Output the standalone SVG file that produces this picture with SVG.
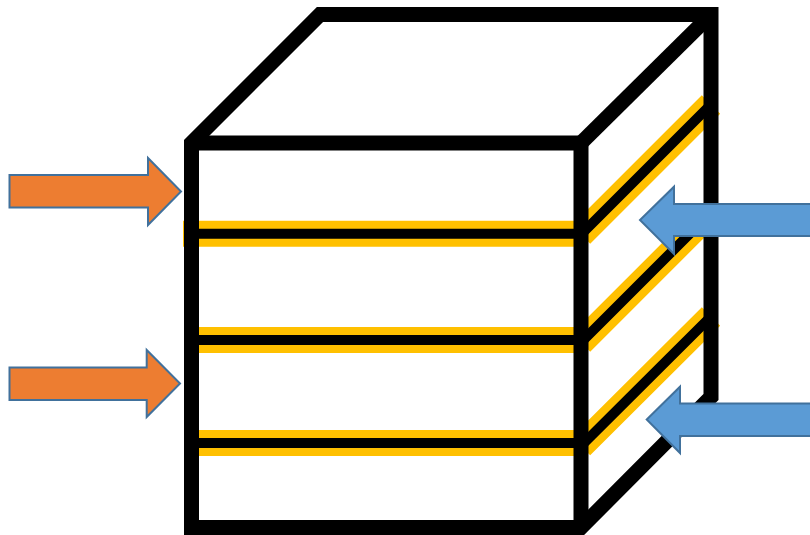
<svg xmlns="http://www.w3.org/2000/svg" width="810" height="535" viewBox="0 0 810 535">
<style>
.o{stroke:#FFC000;stroke-width:26;fill:none}
.k{stroke:#000;stroke-width:10;fill:none}
.c{stroke:#000;stroke-width:15;fill:none;stroke-linejoin:miter;stroke-miterlimit:8}
.ao{fill:#ED7D31;stroke:#41719C;stroke-width:2}
.ab{fill:#5B9BD5;stroke:#41719C;stroke-width:2}
</style>
<rect width="810" height="535" fill="#fff"/>
<g id="layers">
<path class="o" d="M183 233.700H581M581 234.500L711 104.500"/>
<path class="k" d="M191 233.700H581M581 234.500L711 104.500"/>
<path class="o" d="M191 340H581M581 342.500L711 212.500"/>
<path class="k" d="M191 340H581M581 342.500L711 212.500"/>
<path class="o" d="M191 443H581M581 446L711 316.500"/>
<path class="k" d="M191 443H581M581 446L711 316.500"/>
</g>
<g id="cube">
<path class="c" d="M191.500 143L320 14.500H711V397L581 527.500H191.500Z"/>
<path class="c" d="M191.500 143H581V527.500"/>
<path class="c" d="M581 143L711 14.500"/>
</g>
<g id="arrow-left-top"><path class="ao" d="M9.500 175H148V158L181 191.500L148 225V207.500H9.500Z"/></g>
<g id="arrow-left-bottom"><path class="ao" d="M9.500 367.500H146.700V350L180 383.500L146.700 417V400H9.500Z"/></g>
<g id="arrow-right-top"><path class="ab" d="M811 204H674V186.700L640 220L674 254V236H811Z"/></g>
<g id="arrow-right-bottom"><path class="ab" d="M811 403.500H680V386.700L646.700 419.500L680 453V436H811Z"/></g>
</svg>
